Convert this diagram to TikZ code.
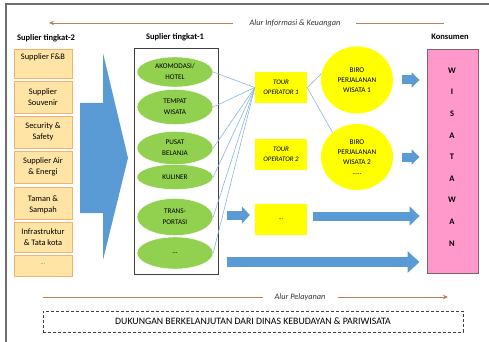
\documentclass[tikz,border=0pt]{standalone}
\usepackage{fontspec}
\setmainfont{Carlito}
\usetikzlibrary{shapes.geometric,arrows.meta}
\definecolor{ofill}{HTML}{FFE4A6}
\definecolor{oline}{HTML}{F4B26E}
\definecolor{ablue}{HTML}{5B9BD5}
\definecolor{lblue}{HTML}{8DB6E0}
\definecolor{gfill}{HTML}{92D050}
\definecolor{yfill}{HTML}{FFFF00}
\definecolor{pfill}{HTML}{FF99CC}
\definecolor{pline}{HTML}{7A6470}
\definecolor{brl}{HTML}{B9805C}
\definecolor{frm}{HTML}{6E6E6E}
\tikzset{
  sbox/.style={draw=oline, fill=ofill, line width=0.8pt, minimum width=58pt, inner sep=0pt},
  stxt/.style={align=center, font=\fontsize{8.4}{11}\selectfont, inner sep=0pt},
  gell/.style={ellipse, fill=gfill, draw=white, line width=0.4pt, minimum width=76pt, inner sep=0pt, align=center, font=\fontsize{7.2}{11}\selectfont},
  ybox/.style={fill=yfill, minimum width=52pt, minimum height=31pt, inner sep=0pt, align=center, font=\itshape\fontsize{6.9}{10}\selectfont},
  ycirc/.style={ellipse, fill=yfill, minimum width=72pt, minimum height=67pt, inner sep=0pt, align=center, font=\fontsize{7.3}{10}\selectfont},
  hdr/.style={font=\bfseries\fontsize{8.5}{10}\selectfont, inner sep=0pt},
  flow/.style={font=\itshape\fontsize{8.3}{10}\selectfont, inner sep=0pt, text=black!80},
  brline/.style={draw=brl, line width=0.9pt},
  thinb/.style={draw=lblue, line width=0.6pt},
}
\begin{document}
\begin{tikzpicture}[x=1pt,y=-1pt]
\useasboundingbox (0,0) rectangle (489,342);
% frame
\draw[frm, line width=1.2pt] (6,342) -- (6,4) -- (489,4);

% top flow line
\node[flow] (itxt) at (295,23.5) {Alur Informasi \& Keuangan};
\coordinate (i1) at (233,23);
\coordinate (i0) at (49,23);
\coordinate (i2) at (356,23);
\coordinate (i3) at (444,23);
\draw[brline, -{Stealth[length=5pt,width=4.5pt]}] (i1) -- (i0);
\draw[brline] (i2) -- (i3);

% headers
\node[hdr] (h2) at (46,38) {Suplier tingkat-2};
\node[hdr] (h1) at (175,37) {Suplier tingkat-1};
\node[hdr] (hk) at (450,37) {Konsumen};

% left supplier boxes
\node[sbox, minimum height=29pt] (s1) at (43,63.5) {};
\node[stxt] (s1t) at (43,57.5) {Supplier F\&B};
\node[sbox, minimum height=32pt] (s2) at (43,97) {};
\node[stxt] at (s2) {Supplier\\Souvenir};
\node[sbox, minimum height=32pt] (s3) at (43,132) {};
\node[stxt] at (s3) {Security \&\\Safety};
\node[sbox, minimum height=32pt] (s4) at (43,167) {};
\node[stxt] at (s4) {Supplier Air\\\& Energi};
\node[sbox, minimum height=32pt] (s5) at (43,203) {};
\node[stxt] at ([yshift=-1.5pt]s5.center) {Taman \&\\Sampah};
\node[sbox, minimum height=30pt] (s6) at (43,237) {};
\node[stxt] at (s6) {Infrastruktur\\\& Tata kota};
\node[sbox, minimum height=21pt] (s7) at (43,265.5) {};
\node[stxt, font=\fontsize{6}{8}\selectfont, text=black!60] at ([yshift=1pt]s7.center) {...};

% big arrow
\fill[ablue] (80,103) -- (103,103) -- (103,53) -- (128,158) -- (103,260) -- (103,213) -- (80,213) -- cycle;

% tier-1 container
\node[draw=black!75, line width=0.8pt, minimum width=84pt, minimum height=226pt, inner sep=0pt] (gbox) at (176,161) {};
\node[gell, minimum height=30pt] (e1) at (175,72) {AKOMODASI/\\HOTEL};
\node[gell, minimum height=35pt] (e2) at (175,107) {TEMPAT\\WISATA};
\node[gell, minimum height=33pt] (e3) at (175,148) {PUSAT\\BELANJA};
\node[gell, minimum height=25pt] (e4) at (175,177) {KULINER};
\node[gell, minimum height=37pt] (e5) at (175,217) {TRANS-\\PORTASI};
\node[gell, minimum height=32pt] (e6) at (175,253) {...};

% tour operators
\node[ybox] (t1) at (281,87.5) {TOUR\\OPERATOR 1};
\node[ybox] (t2) at (281,154.5) {TOUR\\OPERATOR 2};
\node[ybox, font=\fontsize{6}{8}\selectfont] (t3) at (281,219) {...};

% biro
\node[ycirc] (b1) at (357,80) {BIRO\\PERJALANAN\\WISATA 1};
\node[ycirc, minimum height=66pt] (b2) at (357,157) {BIRO\\PERJALANAN\\WISATA 2\\.....};

% thin lines
\foreach \e in {e1,e2,e3,e4,e5,e6} \draw[thinb] (\e.east) -- (t1.west);
\draw[thinb] (t1.east) -- (b1.170);
\draw[thinb] (t1.east) -- (b2.135);

% wisatawan
\node[draw=pline, fill=pfill, line width=0.9pt, minimum width=51pt, minimum height=224pt, inner sep=0pt] (w) at (452.5,161) {};
\node[align=center, font=\bfseries\fontsize{8.5}{21.6}\selectfont, inner sep=0pt] (wt) at (452,157) {W\\I\\S\\A\\T\\A\\W\\A\\N};

% block arrows
\draw[ablue, line width=9pt, -{Triangle[length=8pt,width=15pt]}] ([xshift=9pt]b1.east) -- ([xshift=-7pt]w.west |- b1.east);
\draw[ablue, line width=9pt, -{Triangle[length=8pt,width=15pt]}] ([xshift=9pt]b2.east) -- ([xshift=-7pt]w.west |- b2.east);
\draw[ablue, line width=9pt, -{Triangle[length=8pt,width=17pt]}] ([xshift=9pt,yshift=4pt]gbox.east |- t3) -- ([xshift=-5pt,yshift=4pt]t3.west);
\draw[ablue, line width=9pt, -{Triangle[length=10pt,width=19pt]}] ([xshift=6pt,yshift=3pt]t3.east) -- ([xshift=-7pt,yshift=3pt]w.west |- t3);
\coordinate (bl) at (227,262);
\draw[ablue, line width=10pt, -{Triangle[length=12pt,width=21pt]}] (bl) -- ([xshift=-7pt]w.west |- bl);

% bottom flow line
\node[flow] (ptxt) at (300,297) {Alur Pelayanan};
\coordinate (p0) at (43,297);
\coordinate (p1) at (263,297);
\coordinate (p2) at (338,297);
\coordinate (p3) at (448,297);
\draw[brline] (p0) -- (p1);
\draw[brline, -{Stealth[length=5pt,width=4.5pt]}] (p2) -- (p3);

% dashed support box
\node[draw=black!75, dashed, dash pattern=on 3pt off 2pt, line width=0.9pt, minimum width=420pt, minimum height=21pt, inner sep=0pt, font=\fontsize{9.8}{11}\selectfont] (dk) at (253,321.5) {DUKUNGAN BERKELANJUTAN DARI DINAS KEBUDAYAN \& PARIWISATA};
\end{tikzpicture}
\end{document}
